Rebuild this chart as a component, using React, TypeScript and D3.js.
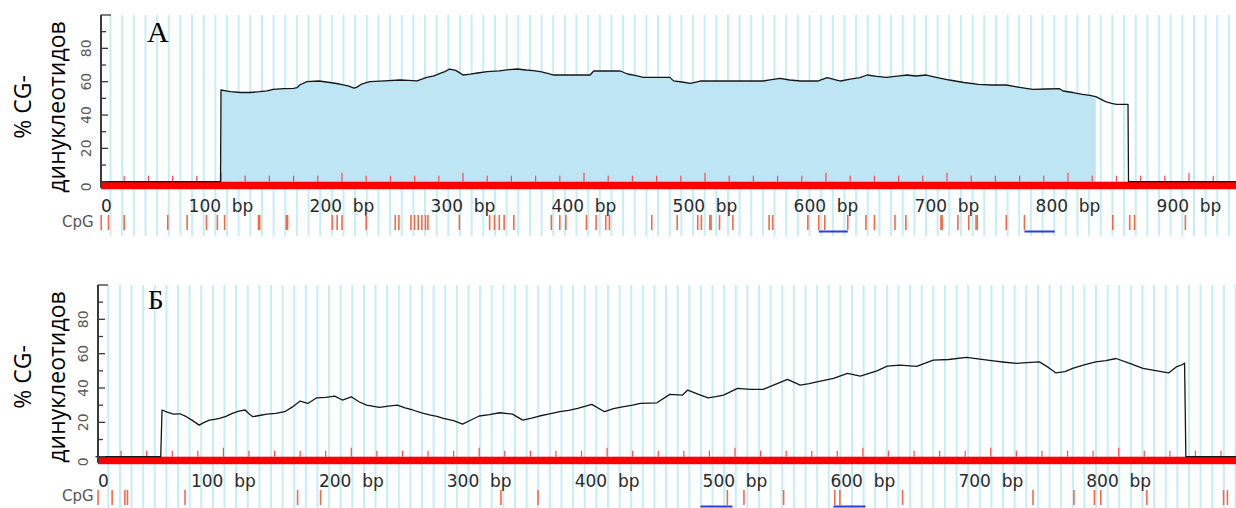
import React from "react";
import * as d3 from "d3";

const WIDTH = 1236;
const HEIGHT = 508;

// Shared axis text
const yTicks = [0, 20, 40, 60, 80];
const yTitleLines = ["% CG-", "динуклеотидов"];
const panelLetters = ["А", "Б"];

// Panel А: sequence profile
const xLabelsA = [0, 100, 200, 300, 400, 500, 600, 700, 800, 900];
const seqLengthA = 940;
const islandFillA: [number, number] = [100, 823];
const profileA: [number, number][] = [
  [0, 0], [99.6, 0], [100, 55], [104, 54.5], [108, 54], [116, 53.5], [124, 53.5], [132, 54],
  [138, 54.5], [143, 55.4], [152, 55.8], [160, 56], [163, 56.4], [165, 58], [171, 60],
  [181, 60.4], [190, 59.5], [198, 58.6], [205, 57.5], [210, 56.2], [212, 56.6], [216, 58.5],
  [223, 60], [235, 60.5], [248, 61], [255, 60.8], [262, 60.5], [266, 61.5], [270, 62.6],
  [276, 63.5], [281, 65], [285, 66], [289, 67.6], [294, 66.8], [298, 65], [300, 64],
  [306, 64.5], [312, 65.2], [320, 66], [330, 66.5], [338, 67.2], [345, 67.6], [352, 67],
  [358, 66.6], [364, 66], [370, 65], [375, 64], [392, 64], [405, 64], [408, 66.4],
  [430, 66.4], [436, 64.6], [443, 63.6], [449, 62.6], [471, 62.6], [474, 60.5], [481, 59.8],
  [488, 59], [496, 60.4], [548, 60.4], [555, 61.2], [562, 62], [570, 61], [579, 60.4],
  [593, 60.4], [601, 62.4], [612, 60.4], [620, 61.5], [628, 62.4], [634, 64], [642, 63.2],
  [650, 62.6], [655, 63], [661, 63.5], [667, 64], [674, 63.4], [683, 64], [692, 62.5],
  [702, 61], [714, 59.5], [726, 58.4], [737, 58], [749, 58], [760, 56.6], [771, 55.4],
  [782, 55.6], [793, 55.8], [796, 54.4], [804, 53.5], [812, 52.4], [818, 51.8], [823, 51],
  [827, 49.5], [831, 48], [836, 47], [840, 46.4], [849.6, 46.4], [850, 0], [940, 0],
];
const cpgSitesA = [
  1, 7, 20, 56, 72, 88, 97, 103, 131, 132, 154, 155, 192, 196, 200, 220, 244, 247, 257,
  260, 263, 266, 269, 271, 297, 322, 326, 330, 334, 342, 373, 380, 385, 402, 410, 418,
  421, 456, 477, 494, 497, 504, 505, 512, 523, 553, 556, 585, 594, 599, 618, 633, 640,
  657, 666, 695, 696, 709, 718, 724, 725, 749, 764, 837, 851, 855, 897,
];
const islandsA: [number, number][] = [[594, 618], [764, 789]];

// Panel Б: sequence profile
const xLabelsB = [0, 100, 200, 300, 400, 500, 600, 700, 800];
const seqLengthB = 892;
const profileB: [number, number][] = [
  [0, 0], [51, 0], [51.5, 13], [52, 27.2], [56, 26], [61, 24.8], [66, 25], [71, 23.3],
  [76, 21], [81, 18.4], [85, 20], [89, 21.3], [93, 21.8], [97, 22.3], [102, 23.5],
  [107, 25.2], [112, 26.5], [117, 27.2], [120, 25], [123, 23.3], [128, 24], [134, 24.8],
  [141, 25.2], [148, 26.2], [154, 29], [160, 32.4], [166, 31], [173, 34.3], [180, 34.5],
  [187, 35.3], [193, 33], [200, 34.9], [206, 32], [212, 30], [222, 28.7], [229, 29.5],
  [236, 30], [242, 28.5], [248, 27.2], [255, 25.5], [262, 24.2], [267, 23.5], [272, 22.3],
  [280, 21], [287, 19], [294, 21.5], [300, 23.7], [308, 24.5], [316, 25.6], [326, 24.8],
  [334, 21.3], [341, 22.5], [347, 23.7], [355, 25], [363, 26.2], [370, 27], [377, 28.1],
  [388, 30.5], [398, 26.2], [405, 28], [412, 29], [420, 30], [426, 31], [433, 31.2],
  [439, 31.4], [449, 36.3], [459, 35.9], [463, 38.8], [471, 36.5], [479, 34.3], [485, 35],
  [491, 35.9], [502, 39.8], [512, 39.2], [522, 39.2], [533, 42.6], [541, 45], [551, 41.7],
  [558, 42.5], [564, 43.6], [577, 45.6], [588, 48.5], [598, 46.9], [611, 50], [619, 52.7],
  [629, 53.3], [642, 52.6], [655, 56.2], [667, 56.6], [681, 57.8], [690, 57], [702, 55.8],
  [711, 55], [720, 54.3], [728, 54.8], [738, 55.2], [745, 52], [751, 48.8], [758, 49.5],
  [764, 51.4], [773, 53.5], [782, 55.2], [790, 56], [798, 57.2], [808, 54.5], [819, 51.4],
  [830, 50], [839, 48.8], [845, 52.3], [850, 53.7], [851.5, 54.5], [852, 28], [852.5, 0],
  [892, 0],
];
const cpgSitesB = [
  2, 13, 23, 25, 70, 158, 176, 317, 346, 494, 507, 538, 578, 582, 631, 733, 765, 781,
  786, 822, 882, 885,
];
const islandsB: [number, number][] = [[473, 498], [577, 602]];

type Layout = {
  x0: number;
  per100: number;
  axisX: number;
  yZero: number;
  yHundred: number;
  gridStart: number;
  gridStep: number;
  gridBottom: number;
  labelY: number;
  cpgTop: number;
  cpgBottom: number;
  islandY: number;
  cpgLabelY: number;
  letterX: number;
  letterY: number;
  letterSize: number;
  titleY: number;
};

const layoutA: Layout = {
  x0: 100, per100: 121, axisX: 101, yZero: 181.7, yHundred: 15,
  gridStart: 110.5, gridStep: 11.65, gridBottom: 236,
  labelY: 211.5, cpgTop: 215, cpgBottom: 230, islandY: 231.5, cpgLabelY: 227,
  letterX: 147, letterY: 41.7, letterSize: 30, titleY: 107,
};

const layoutB: Layout = {
  x0: 95.5, per100: 127.9, axisX: 98, yZero: 456.7, yHundred: 285,
  gridStart: 108.3, gridStep: 11.62, gridBottom: 508,
  labelY: 487, cpgTop: 490, cpgBottom: 505, islandY: 506.5, cpgLabelY: 501,
  letterX: 148, letterY: 309, letterSize: 27, titleY: 377,
};

const SANS = "'DejaVu Sans', Verdana, sans-serif";

type PanelProps = {
  profile: [number, number][];
  fill: [number, number] | null;
  sites: number[];
  islands: [number, number][];
  seqLength: number;
  xLabels: number[];
  letter: string;
  L: Layout;
};

function Panel({ profile, fill, sites, islands, seqLength, xLabels, letter, L }: PanelProps) {
  const x = d3.scaleLinear().domain([0, 100]).range([L.x0, L.x0 + L.per100]);
  const y = d3.scaleLinear().domain([0, 100]).range([L.yZero, L.yHundred]);

  const gridXs = d3.range(L.gridStart, WIDTH, L.gridStep);
  const line = d3
    .line<[number, number]>()
    .x((d) => x(d[0]))
    .y((d) => y(d[1]));

  let areaPath: string | null = null;
  if (fill) {
    const pts = profile.filter((d) => d[0] >= fill[0] && d[0] <= fill[1]);
    areaPath = d3
      .area<[number, number]>()
      .x((d) => x(d[0]))
      .y0(y(0))
      .y1((d) => y(d[1]))(pts);
  }

  const bpTicks = d3.range(20, seqLength + 1, 20);
  const yMinor = d3.range(0, 101, 10);

  return (
    <g>
      {/* background stripes */}
      {gridXs.map((gx, i) => (
        <line key={"g" + i} x1={gx} x2={gx} y1={L.yHundred} y2={L.gridBottom}
          stroke="#c4eef8" strokeWidth={2} />
      ))}

      {/* predicted island area */}
      {areaPath && <path d={areaPath} fill="#bde5f4" />}

      {/* sequence band */}
      <rect x={L.axisX} y={L.yZero} width={WIDTH - L.axisX} height={7.5} fill="#ff0000" />
      {bpTicks.map((b) => (
        <line key={"t" + b} x1={x(b)} x2={x(b)} y1={L.yZero - (b % 100 === 0 ? 9 : 6)} y2={L.yZero}
          stroke="#ff4a4a" strokeWidth={1.2} />
      ))}

      {/* profile line */}
      <path d={line(profile) || ""} fill="none" stroke="#161616" strokeWidth={1.3}
        strokeLinejoin="round" />

      {/* y axis */}
      <line x1={L.axisX} x2={L.axisX} y1={L.yHundred} y2={L.yZero + 6} stroke="#3a3a3a" strokeWidth={2} />
      {yMinor.map((v) => (
        <line key={"yt" + v} x1={L.axisX} x2={L.axisX + (v === 100 ? 10 : v % 20 === 0 ? 7 : 5)}
          y1={y(v)} y2={y(v)} stroke="#3a3a3a" strokeWidth={1.3} />
      ))}
      {yTicks.map((v) => (
        <text key={"yl" + v} transform={`translate(${L.axisX - 10.5},${y(v) + (v === 0 ? 5 : 0)}) rotate(-90)`}
          textAnchor="middle" fontFamily={SANS} fontSize={14} fill="#5a5a5a">
          {v}
        </text>
      ))}

      {/* axis title */}
      {yTitleLines.map((t, i) => (
        <text key={"tt" + i} transform={`translate(${i === 0 ? 31 : 65},${L.titleY}) rotate(-90)`}
          textAnchor="middle" fontFamily="'Open Sans', sans-serif" fontSize={23} fill="#000">
          {t}
        </text>
      ))}

      {/* bp labels */}
      {xLabels.map((v) =>
        v === 0 ? (
          <text key={"xl" + v} x={L.axisX} y={L.labelY} fontFamily={SANS} fontSize={17} fill="#2a2a2a">0</text>
        ) : (
          <text key={"xl" + v} x={x(v)} y={L.labelY} textAnchor="middle" fontFamily={SANS}
            fontSize={17} fill="#2a2a2a">
            {`${v}\u00a0\u00a0bp`}
          </text>
        )
      )}

      {/* CpG sites */}
      <text x={62} y={L.cpgLabelY} fontFamily={SANS} fontSize={15} fill="#555">CpG</text>
      {sites.map((s, i) => (
        <line key={"c" + i} x1={x(s)} x2={x(s)} y1={L.cpgTop} y2={L.cpgBottom}
          stroke="#f26a48" strokeWidth={1.6} />
      ))}
      {islands.map((r, i) => (
        <line key={"is" + i} x1={x(r[0])} x2={x(r[1])} y1={L.islandY} y2={L.islandY}
          stroke="#2b3be6" strokeWidth={2} />
      ))}

      {/* panel letter */}
      <text x={L.letterX} y={L.letterY} fontFamily="'Liberation Serif', 'Times New Roman', serif"
        fontSize={L.letterSize} fill="#000">
        {letter}
      </text>
    </g>
  );
}

export default function App() {
  return (
    <svg width={WIDTH} height={HEIGHT} viewBox={`0 0 ${WIDTH} ${HEIGHT}`}
      style={{ position: "absolute", left: 0, top: 0, background: "#fff" }}>
      <rect width={WIDTH} height={HEIGHT} fill="#fff" />
      <Panel profile={profileA} fill={islandFillA} sites={cpgSitesA} islands={islandsA}
        seqLength={seqLengthA} xLabels={xLabelsA} letter={panelLetters[0]} L={layoutA} />
      <Panel profile={profileB} fill={null} sites={cpgSitesB} islands={islandsB}
        seqLength={seqLengthB} xLabels={xLabelsB} letter={panelLetters[1]} L={layoutB} />
    </svg>
  );
}
